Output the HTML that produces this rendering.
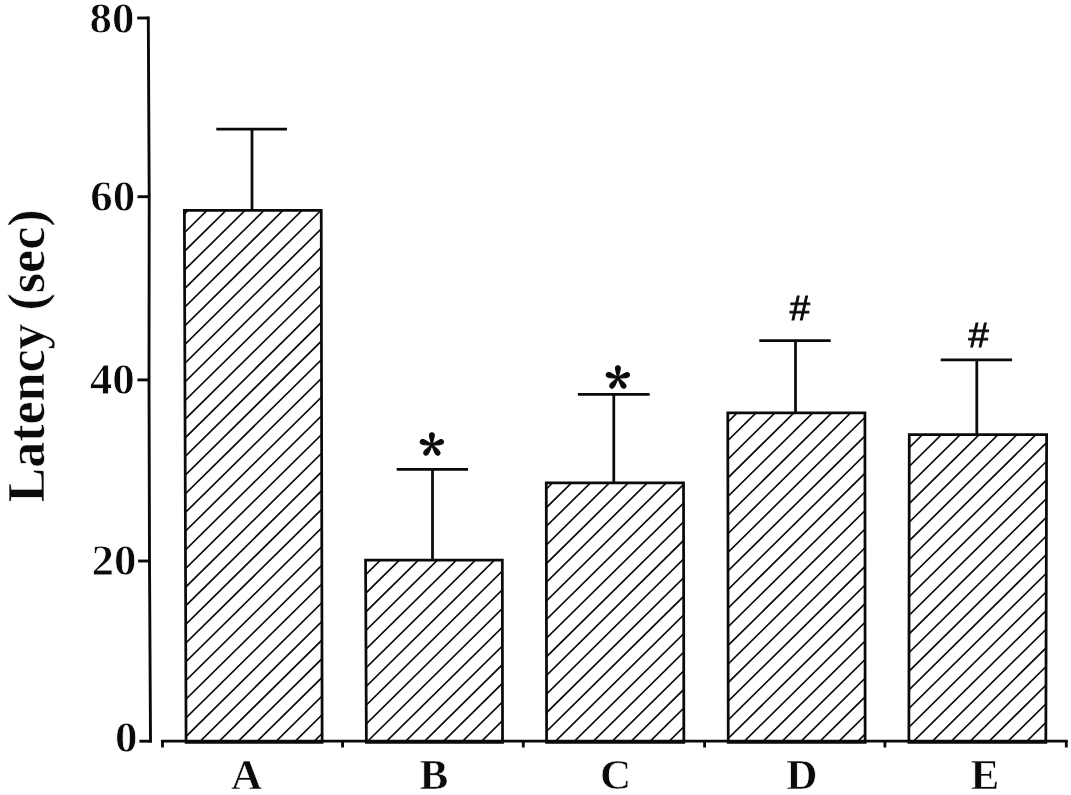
<!DOCTYPE html>
<html lang="en"><head><meta charset="utf-8"><title>Latency (sec)</title>
<style>
html,body{margin:0;padding:0;background:#fff;}
body{width:1071px;height:795px;overflow:hidden;}
svg{display:block;}
text{font-family:"Liberation Serif","Times New Roman",serif;font-weight:bold;fill:#0a0a0a;}
.num{font-size:45px;stroke:#fff;stroke-width:0.8;}
.cat{font-size:43.2px;stroke:#fff;stroke-width:0.6;}
.ttl{font-size:52px;stroke:#fff;stroke-width:0.6;}
.ast{font-family:"Noto Serif CJK SC","Liberation Serif",serif;font-weight:bold;font-size:52px;stroke:#0a0a0a;stroke-width:1.0;stroke-linejoin:round;}
.hsh{font-family:"Liberation Sans",Arial,sans-serif;font-weight:normal;font-size:35px;stroke:#0a0a0a;stroke-width:0.9;}
</style></head><body>
<svg width="1071" height="795" viewBox="0 0 1071 795">
<rect x="0" y="0" width="1071" height="795" fill="#ffffff"/>
<defs>
<clipPath id="clipA"><polygon points="184.38,210.40 321.23,210.40 322.12,742.42 186.07,742.42"/></clipPath>
<clipPath id="clipB"><polygon points="365.57,560.00 502.32,560.00 502.52,742.42 366.38,742.42"/></clipPath>
<clipPath id="clipC"><polygon points="546.27,482.80 683.52,482.80 683.83,742.42 546.58,742.42"/></clipPath>
<clipPath id="clipD"><polygon points="727.77,412.75 864.92,412.75 865.12,742.42 728.27,742.42"/></clipPath>
<clipPath id="clipE"><polygon points="909.27,434.60 1046.62,434.60 1045.83,742.42 908.88,742.42"/></clipPath>
</defs>
<path clip-path="url(#clipA)" stroke="#0a0a0a" stroke-width="1.65" fill="none" d="M180.00 199.56 L326.50 55.26 M180.00 218.28 L326.50 73.98 M180.00 237.00 L326.50 92.70 M180.00 255.72 L326.50 111.42 M180.00 274.44 L326.50 130.14 M180.00 293.16 L326.50 148.86 M180.00 311.88 L326.50 167.58 M180.00 330.60 L326.50 186.30 M180.00 349.32 L326.50 205.02 M180.00 368.04 L326.50 223.74 M180.00 386.76 L326.50 242.46 M180.00 405.48 L326.50 261.18 M180.00 424.20 L326.50 279.90 M180.00 442.92 L326.50 298.62 M180.00 461.64 L326.50 317.34 M180.00 480.36 L326.50 336.06 M180.00 499.08 L326.50 354.78 M180.00 517.80 L326.50 373.50 M180.00 536.52 L326.50 392.22 M180.00 555.24 L326.50 410.94 M180.00 573.96 L326.50 429.66 M180.00 592.68 L326.50 448.38 M180.00 611.40 L326.50 467.10 M180.00 630.12 L326.50 485.82 M180.00 648.84 L326.50 504.54 M180.00 667.56 L326.50 523.26 M180.00 686.28 L326.50 541.98 M180.00 705.00 L326.50 560.70 M180.00 723.72 L326.50 579.42 M180.00 742.44 L326.50 598.14 M180.00 761.16 L326.50 616.86 M180.00 779.88 L326.50 635.58 M180.00 798.60 L326.50 654.30 M180.00 817.32 L326.50 673.02 M180.00 836.04 L326.50 691.74 M180.00 854.76 L326.50 710.46 M180.00 873.48 L326.50 729.18 M180.00 892.20 L326.50 747.90"/>
<path clip-path="url(#clipB)" stroke="#0a0a0a" stroke-width="1.65" fill="none" d="M361.20 541.61 L506.90 398.09 M361.20 560.33 L506.90 416.81 M361.20 579.05 L506.90 435.53 M361.20 597.77 L506.90 454.25 M361.20 616.49 L506.90 472.97 M361.20 635.21 L506.90 491.69 M361.20 653.93 L506.90 510.41 M361.20 672.65 L506.90 529.13 M361.20 691.37 L506.90 547.85 M361.20 710.09 L506.90 566.57 M361.20 728.81 L506.90 585.29 M361.20 747.53 L506.90 604.01 M361.20 766.25 L506.90 622.73 M361.20 784.97 L506.90 641.45 M361.20 803.69 L506.90 660.17 M361.20 822.41 L506.90 678.89 M361.20 841.13 L506.90 697.61 M361.20 859.85 L506.90 716.33 M361.20 878.57 L506.90 735.05 M361.20 897.29 L506.90 753.77"/>
<path clip-path="url(#clipC)" stroke="#0a0a0a" stroke-width="1.65" fill="none" d="M541.90 474.71 L688.20 330.60 M541.90 493.37 L688.20 349.26 M541.90 512.03 L688.20 367.92 M541.90 530.69 L688.20 386.58 M541.90 549.35 L688.20 405.24 M541.90 568.01 L688.20 423.90 M541.90 586.67 L688.20 442.56 M541.90 605.33 L688.20 461.22 M541.90 623.99 L688.20 479.88 M541.90 642.65 L688.20 498.54 M541.90 661.31 L688.20 517.20 M541.90 679.97 L688.20 535.86 M541.90 698.63 L688.20 554.52 M541.90 717.29 L688.20 573.18 M541.90 735.95 L688.20 591.84 M541.90 754.61 L688.20 610.50 M541.90 773.27 L688.20 629.16 M541.90 791.93 L688.20 647.82 M541.90 810.59 L688.20 666.48 M541.90 829.25 L688.20 685.14 M541.90 847.91 L688.20 703.80 M541.90 866.57 L688.20 722.46 M541.90 885.23 L688.20 741.12 M541.90 903.89 L688.20 759.78"/>
<path clip-path="url(#clipD)" stroke="#0a0a0a" stroke-width="1.65" fill="none" d="M723.40 407.71 L869.50 263.80 M723.40 426.35 L869.50 282.44 M723.40 444.99 L869.50 301.08 M723.40 463.63 L869.50 319.72 M723.40 482.27 L869.50 338.36 M723.40 500.91 L869.50 357.00 M723.40 519.55 L869.50 375.64 M723.40 538.19 L869.50 394.28 M723.40 556.83 L869.50 412.92 M723.40 575.47 L869.50 431.56 M723.40 594.11 L869.50 450.20 M723.40 612.75 L869.50 468.84 M723.40 631.39 L869.50 487.48 M723.40 650.03 L869.50 506.12 M723.40 668.67 L869.50 524.76 M723.40 687.31 L869.50 543.40 M723.40 705.95 L869.50 562.04 M723.40 724.59 L869.50 580.68 M723.40 743.23 L869.50 599.32 M723.40 761.87 L869.50 617.96 M723.40 780.51 L869.50 636.60 M723.40 799.15 L869.50 655.24 M723.40 817.79 L869.50 673.88 M723.40 836.43 L869.50 692.52 M723.40 855.07 L869.50 711.16 M723.40 873.71 L869.50 729.80 M723.40 892.35 L869.50 748.44"/>
<path clip-path="url(#clipE)" stroke="#0a0a0a" stroke-width="1.65" fill="none" d="M904.50 415.15 L1051.00 270.85 M904.50 433.76 L1051.00 289.46 M904.50 452.37 L1051.00 308.07 M904.50 470.98 L1051.00 326.67 M904.50 489.59 L1051.00 345.29 M904.50 508.20 L1051.00 363.89 M904.50 526.81 L1051.00 382.51 M904.50 545.42 L1051.00 401.12 M904.50 564.03 L1051.00 419.73 M904.50 582.64 L1051.00 438.34 M904.50 601.25 L1051.00 456.94 M904.50 619.86 L1051.00 475.56 M904.50 638.47 L1051.00 494.16 M904.50 657.08 L1051.00 512.78 M904.50 675.69 L1051.00 531.38 M904.50 694.30 L1051.00 550.00 M904.50 712.91 L1051.00 568.61 M904.50 731.52 L1051.00 587.21 M904.50 750.13 L1051.00 605.83 M904.50 768.74 L1051.00 624.44 M904.50 787.35 L1051.00 643.05 M904.50 805.96 L1051.00 661.65 M904.50 824.57 L1051.00 680.27 M904.50 843.18 L1051.00 698.88 M904.50 861.79 L1051.00 717.48 M904.50 880.40 L1051.00 736.10 M904.50 899.01 L1051.00 754.71"/>
<g fill="none" stroke="#0a0a0a" stroke-width="2.75" stroke-linejoin="miter">
<polygon points="184.38,210.40 321.23,210.40 322.12,742.42 186.07,742.42"/>
<polygon points="365.57,560.00 502.32,560.00 502.52,742.42 366.38,742.42"/>
<polygon points="546.27,482.80 683.52,482.80 683.83,742.42 546.58,742.42"/>
<polygon points="727.77,412.75 864.92,412.75 865.12,742.42 728.27,742.42"/>
<polygon points="909.27,434.60 1046.62,434.60 1045.83,742.42 908.88,742.42"/>
</g>
<g fill="none" stroke="#0a0a0a" stroke-width="2.75">
<path d="M216.30 129.00 H287.00 M252.00 129.00 V210.40"/>
<path d="M396.70 469.30 H468.10 M432.50 469.30 V560.00"/>
<path d="M577.90 394.40 H649.70 M613.80 394.40 V482.80"/>
<path d="M759.30 340.50 H830.70 M795.50 340.50 V412.75"/>
<path d="M940.70 359.90 H1012.10 M976.80 359.90 V434.60"/>
</g>
<g fill="none" stroke="#0a0a0a" stroke-width="2.9">
<polyline points="148.30,16.50 148.30,18.00 149.20,196.70 149.00,379.90 149.50,561.00 150.50,741.20 150.50,742.70"/>
<line x1="137.20" y1="18.00" x2="148.30" y2="18.00"/>
<line x1="137.50" y1="196.70" x2="149.20" y2="196.70"/>
<line x1="137.40" y1="379.90" x2="149.00" y2="379.90"/>
<line x1="138.10" y1="561.00" x2="149.50" y2="561.00"/>
<line x1="139.40" y1="741.20" x2="150.50" y2="741.20"/>
</g>
<g fill="none" stroke="#0a0a0a" stroke-width="2.85">
<line x1="160.90" y1="741.10" x2="1067.80" y2="741.10"/>
<line x1="162.50" y1="741.10" x2="162.50" y2="747.50"/>
<line x1="342.55" y1="741.10" x2="342.55" y2="747.50"/>
<line x1="523.30" y1="741.10" x2="523.30" y2="747.50"/>
<line x1="704.60" y1="741.10" x2="704.60" y2="747.50"/>
<line x1="884.90" y1="741.10" x2="884.90" y2="747.50"/>
<line x1="1066.30" y1="741.10" x2="1066.30" y2="747.50"/>
</g>
<text class="num" text-anchor="end" x="134.40" y="33.20">80</text>
<text class="num" text-anchor="end" x="135.30" y="210.70">60</text>
<text class="num" text-anchor="end" x="134.80" y="393.50">40</text>
<text class="num" text-anchor="end" x="136.50" y="574.80">20</text>
<text class="num" text-anchor="end" x="137.40" y="752.10">0</text>
<text class="cat" text-anchor="middle" x="246.65" y="789.10">A</text>
<text class="cat" text-anchor="middle" x="433.95" y="789.10">B</text>
<text class="cat" text-anchor="middle" x="615.70" y="789.10">C</text>
<text class="cat" text-anchor="middle" x="801.75" y="789.10">D</text>
<text class="cat" text-anchor="middle" x="985.00" y="789.10">E</text>
<text class="ast" text-anchor="middle" x="431.75" y="475.6">*</text>
<text class="ast" text-anchor="middle" x="617.85" y="408.8">*</text>
<text class="hsh" text-anchor="middle" transform="translate(799.85 320.3) scale(1.04 1)">#</text>
<text class="hsh" text-anchor="middle" transform="translate(978.55 346.7) scale(1.04 1)">#</text>
<text class="ttl" text-anchor="middle" transform="translate(43.6 356) rotate(-90)">Latency (sec)</text>
</svg>
</body></html>
